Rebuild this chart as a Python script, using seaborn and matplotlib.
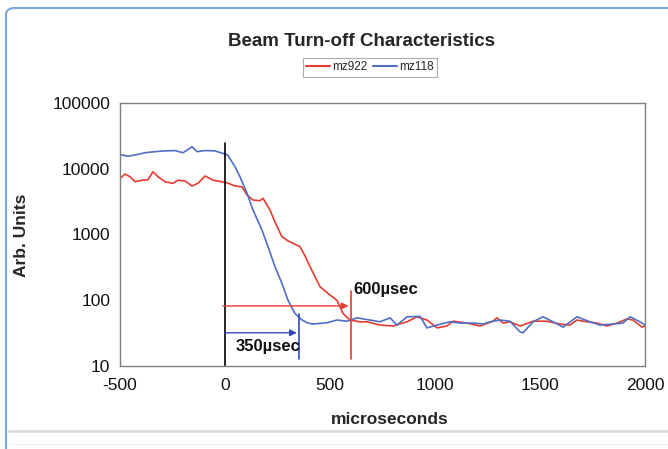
import numpy as np
import pandas as pd
import matplotlib
matplotlib.use("Agg")
import matplotlib.pyplot as plt
from matplotlib.patches import FancyBboxPatch
from matplotlib.lines import Line2D
import seaborn as sns

# ---- measured signal data ----
x_mz922 = [-500, -490, -476, -452, -429, -395, -367, -343, -319, -286, -248, -224,
           -190, -157, -129, -95, -57, -14, 10, 48, 81, 105, 133, 167, 181, 214,
           240, 271, 300, 324, 357, 380, 405, 452, 500, 533, 562, 595, 643, 676,
           738, 800, 867, 914, 962, 1010, 1057, 1086, 1152, 1214, 1276, 1295, 1324,
           1357, 1405, 1467, 1533, 1595, 1643, 1676, 1724, 1771, 1819, 1867, 1914,
           1943, 1986, 2000]
y_mz922 = [7200, 7570, 8300, 7570, 6350, 6700, 6800, 9000, 7570, 6350, 6000, 6700,
           6500, 5470, 6000, 7770, 6700, 6350, 6100, 5470, 5300, 3990, 3350, 3270,
           3550, 2360, 1500, 927, 800, 735, 653, 480, 324, 161, 120, 100, 63, 50,
           47, 47, 42, 40.6, 47, 56, 50, 38, 40.6, 48, 45, 40.6, 48, 54, 45, 47,
           40.6, 48, 48, 43.5, 42, 50, 47, 45, 40.6, 45, 52, 50, 39, 40.6]

x_mz118 = [-500, -490, -462, -429, -381, -333, -286, -238, -200, -157, -133, -95,
           -48, 0, 14, 48, 71, 105, 133, 176, 205, 238, 271, 300, 333, 367, 395,
           419, 486, 533, 581, 629, 690, 738, 786, 819, 867, 929, 962, 1010, 1071,
           1119, 1181, 1229, 1262, 1310, 1357, 1405, 1419, 1467, 1514, 1562, 1610,
           1676, 1738, 1786, 1848, 1895, 1929, 1976, 2000]
y_mz118 = [16000, 16200, 15500, 16200, 17500, 18200, 18700, 18900, 17500, 21600,
           18200, 18900, 18700, 16700, 16000, 10700, 7600, 4240, 2370, 1170, 650,
           325, 181, 100, 63, 50, 45, 43.5, 45.5, 50, 48, 54, 50, 47, 54, 42, 56,
           57, 38, 42, 47, 45, 45, 43.5, 47, 50, 48, 33, 32, 47, 56, 47, 39, 56,
           47, 42, 43.5, 45, 56, 47, 42]

series_names = ["mz922", "mz118"]
x_ticks = [-500, 0, 500, 1000, 1500, 2000]
y_ticks = [10, 100, 1000, 10000, 100000]
turnoff_times = {"mz118": 350, "mz922": 600}

RED = "#e63b2e"
BLUE = "#4f6fc6"
DARK_BLUE = "#3348b8"

sns.set_theme(style="white")
plt.rcParams["font.family"] = ["Liberation Sans", "DejaVu Sans"]

df = pd.concat([
    pd.DataFrame({"t": x_mz922, "v": y_mz922, "series": "mz922"}),
    pd.DataFrame({"t": x_mz118, "v": y_mz118, "series": "mz118"}),
])

fig = plt.figure(figsize=(6.68, 4.49), dpi=100)
ax = fig.add_axes([120 / 668, 1 - 366 / 449, 525 / 668, 263 / 449])

sns.lineplot(data=df, x="t", y="v", hue="series", hue_order=series_names,
             palette={"mz922": RED, "mz118": BLUE}, linewidth=1.2,
             estimator=None, sort=False, ax=ax, legend=False)

ax.set_yscale("log")
ax.set_xlim(-500, 2000)
ax.set_ylim(10, 100000)
ax.set_xticks(x_ticks)
ax.set_xticklabels([str(t) for t in x_ticks])
ax.set_yticks(y_ticks)
ax.set_yticklabels([str(t) for t in y_ticks])
ax.minorticks_off()
ax.tick_params(axis="both", direction="out", length=4, width=1, color="#808080",
               labelsize=12.5, labelcolor="#111111")
ax.tick_params(axis="x", pad=5)
ax.tick_params(axis="y", pad=3)
for sp in ax.spines.values():
    sp.set_color("#808080")
    sp.set_linewidth(1.0)

ax.set_xlabel("")
ax.set_ylabel("")
fig.text(390 / 668, 1 - 419 / 449, "microseconds", fontsize=12.5,
         fontweight="bold", ha="center", va="center")
fig.text(22 / 668, 1 - 235 / 449, "Arb. Units", fontsize=12.5,
         fontweight="bold", ha="center", va="center", rotation=90)

# beam turn-off marker
ax.plot([0, 0], [10, 24500], color="black", lw=1.2)

# mz922 settling time
t_r = turnoff_times["mz922"]
ax.annotate("", xy=(t_r - 12, 82), xytext=(-10, 82),
            arrowprops=dict(arrowstyle="-|>", color=RED, lw=1.0,
                            mutation_scale=10, shrinkA=0, shrinkB=0))
ax.plot([t_r, t_r], [12.8, 140], color=RED, lw=1.2)
ax.text(t_r + 10, 148, f"{t_r}\u00b5sec", fontsize=12, fontweight="bold",
        va="center", ha="left", color="#111111")

# mz118 settling time
t_b = turnoff_times["mz118"]
ax.annotate("", xy=(t_b - 8, 32), xytext=(0, 32),
            arrowprops=dict(arrowstyle="-|>", color=DARK_BLUE, lw=1.0,
                            mutation_scale=10, shrinkA=0, shrinkB=0))
ax.plot([t_b, t_b], [12.8, 62], color=DARK_BLUE, lw=1.2)
ax.text(50, 20, f"{t_b}\u00b5sec", fontsize=12, fontweight="bold",
        va="center", ha="left", color="#111111")

fig.text(362 / 668, 1 - 42 / 449, "Beam Turn-off Characteristics",
         fontsize=13.5, fontweight="bold", ha="center", va="center")

handles = [Line2D([], [], color=RED, lw=1.5), Line2D([], [], color=BLUE, lw=1.5)]
leg = fig.legend(handles, series_names, loc="center", ncol=2,
                 bbox_to_anchor=(370 / 668, 1 - 67.5 / 449), fontsize=8.5,
                 frameon=True, fancybox=False, edgecolor="#999999",
                 handlelength=2.0, handletextpad=0.2, columnspacing=0.5,
                 borderpad=0.3)
leg.get_frame().set_linewidth(0.8)

# page frame around the figure
frame = FancyBboxPatch((6 / 668, -20 / 449), 700 / 668, (449 - 8 + 20) / 449,
                       boxstyle="round,pad=0,rounding_size=0.014",
                       transform=fig.transFigure, facecolor="none",
                       edgecolor="#7aa7e0", lw=1.5, zorder=-1)
fig.add_artist(frame)
fig.add_artist(Line2D([9 / 668, 1], [1 - 431 / 449, 1 - 431 / 449],
                      transform=fig.transFigure, color="#dcdcdc", lw=2))
fig.add_artist(Line2D([9 / 668, 1], [1 - 444 / 449, 1 - 444 / 449],
                      transform=fig.transFigure, color="#f0f0f0", lw=1))

fig.savefig("out.png", dpi=100)
